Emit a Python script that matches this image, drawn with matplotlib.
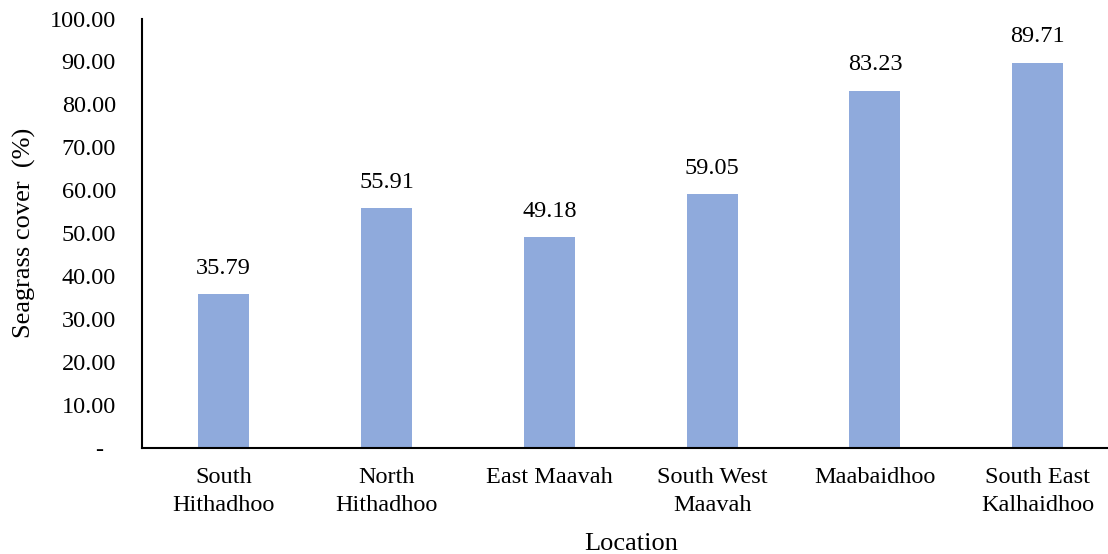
import numpy as np
import matplotlib.pyplot as plt

locations = ['South\nHithadhoo', 'North\nHithadhoo', 'East Maavah',
             'South West\nMaavah', 'Maabaidhoo', 'South East\nKalhaidhoo']
cover = [35.79, 55.91, 49.18, 59.05, 83.23, 89.71]
yticks = [0, 10, 20, 30, 40, 50, 60, 70, 80, 90, 100]

plt.rcParams['font.family'] = ['Liberation Serif', 'DejaVu Serif']

fig = plt.figure(figsize=(11.08, 5.54), dpi=100)
ax = fig.add_axes([0.1284, 0.1913, 0.8817, 0.7753])

x = np.arange(len(locations))
ax.bar(x, cover, width=0.313, color='#8faadc')

for xi, v in zip(x, cover):
    ax.annotate('%.2f' % v, (xi, v), xytext=(0, 11), textcoords='offset points',
                ha='center', va='bottom', fontsize=17.5)

ax.set_xlim(-0.5, len(locations) - 0.5)
ax.set_ylim(0, 100)
ax.set_yticks(yticks)
ax.set_yticklabels(['-  ' if t == 0 else '%.2f' % t for t in yticks])
ax.set_xticks(x)
ax.set_xticklabels(locations, linespacing=1.4)
ax.tick_params(length=0, labelsize=17.5)
ax.tick_params(axis='y', pad=19)
ax.tick_params(axis='x', pad=14)

for side in ['top', 'right']:
    ax.spines[side].set_visible(False)
for side in ['left', 'bottom']:
    ax.spines[side].set_linewidth(1.5)

ax.set_xlabel('Location', fontsize=19, labelpad=12)
ax.set_ylabel('Seagrass cover  (%)', fontsize=19, labelpad=10)

fig.savefig('out.png', dpi=100)
